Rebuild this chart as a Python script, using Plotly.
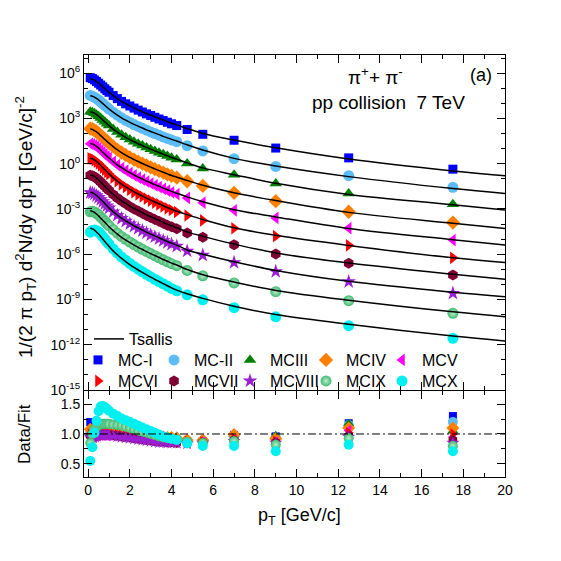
import plotly.graph_objects as go

# ---------------- data ----------------
PT = [0.1, 0.2, 0.3, 0.4, 0.5, 0.6, 0.7, 0.8, 0.9, 1.0,
      1.2, 1.4, 1.6, 1.8, 2.0, 2.2, 2.4, 2.6, 2.8, 3.0, 3.2, 3.4, 3.6, 3.8, 4.0,
      4.25, 4.75, 5.5, 7.0, 9.0, 12.5, 17.5]
FIT_PT = PT + [20.0]

SERIES = ["MC-I", "MC-II", "MCIII", "MCIV", "MCV",
          "MCVI", "MCVII", "MCVIII", "MCIX", "MCX"]

# Tsallis fit curves, log10 of 1/(2 pi pT) d2N/dy dpT at FIT_PT
FIT_LOG10_MC_I = [5.62, 5.59, 5.53, 5.44, 5.33, 5.21, 5.09, 4.96, 4.84, 4.73,
                  4.51, 4.31, 4.13, 3.97, 3.83, 3.69, 3.56, 3.44, 3.32, 3.21, 3.10, 2.99, 2.89, 2.78, 2.68,
                  2.57, 2.32, 2.00, 1.56, 1.05, 0.31, -0.48, -0.80]
FIT_LOG10_MC_II = [4.50, 4.47, 4.41, 4.32, 4.22, 4.10, 3.98, 3.86, 3.74, 3.62,
                   3.41, 3.21, 3.04, 2.88, 2.74, 2.60, 2.48, 2.36, 2.24, 2.13, 2.02, 1.92, 1.81, 1.71, 1.61,
                   1.50, 1.25, 0.90, 0.35, -0.16, -0.86, -1.65, -1.98]
FIT_LOG10_MC_III = [3.44, 3.41, 3.35, 3.25, 3.14, 3.02, 2.89, 2.77, 2.64, 2.52,
                    2.29, 2.09, 1.91, 1.74, 1.59, 1.45, 1.32, 1.20, 1.08, 0.96, 0.85, 0.74, 0.63, 0.52, 0.41,
                    0.30, 0.05, -0.28, -0.73, -1.30, -2.04, -2.72, -3.08]
FIT_LOG10_MC_IV = [2.29, 2.26, 2.19, 2.10, 1.99, 1.86, 1.73, 1.60, 1.48, 1.36,
                   1.13, 0.92, 0.73, 0.57, 0.41, 0.27, 0.14, 0.01, -0.11, -0.23, -0.35, -0.46, -0.57, -0.68, -0.79,
                   -0.90, -1.12, -1.43, -1.93, -2.45, -3.23, -3.95, -4.30]
FIT_LOG10_MC_V = [1.34, 1.31, 1.24, 1.14, 1.03, 0.89, 0.76, 0.63, 0.50, 0.37,
                  0.14, -0.08, -0.27, -0.44, -0.60, -0.75, -0.89, -1.02, -1.15, -1.27, -1.39, -1.50, -1.62, -1.73, -1.84,
                  -1.96, -2.20, -2.52, -3.05, -3.53, -4.30, -5.04, -5.39]
FIT_LOG10_MC_VI = [0.35, 0.32, 0.25, 0.14, 0.02, -0.12, -0.26, -0.40, -0.54, -0.68,
                   -0.93, -1.16, -1.36, -1.54, -1.71, -1.87, -2.01, -2.15, -2.29, -2.42, -2.54, -2.66, -2.79, -2.91, -3.02,
                   -3.15, -3.38, -3.70, -4.25, -4.75, -5.42, -6.24, -6.55]
FIT_LOG10_MC_VII = [-0.75, -0.78, -0.85, -0.96, -1.08, -1.22, -1.36, -1.50, -1.64, -1.78,
                    -2.03, -2.26, -2.46, -2.64, -2.81, -2.97, -3.11, -3.25, -3.39, -3.52, -3.64, -3.76, -3.89, -4.01, -4.12,
                    -4.25, -4.52, -4.82, -5.33, -5.92, -6.59, -7.33, -7.66]
FIT_LOG10_MC_VIII = [-1.90, -1.93, -2.00, -2.11, -2.23, -2.37, -2.51, -2.65, -2.79, -2.93,
                     -3.18, -3.41, -3.61, -3.79, -3.96, -4.12, -4.26, -4.40, -4.54, -4.67, -4.79, -4.91, -5.04, -5.16, -5.27,
                     -5.40, -5.72, -6.00, -6.50, -7.08, -7.80, -8.52, -8.82]
FIT_LOG10_MC_IX = [-3.12, -3.16, -3.23, -3.34, -3.46, -3.61, -3.75, -3.89, -4.04, -4.18,
                   -4.43, -4.67, -4.88, -5.06, -5.24, -5.40, -5.55, -5.69, -5.83, -5.96, -6.09, -6.22, -6.35, -6.47, -6.59,
                   -6.72, -7.02, -7.36, -7.85, -8.40, -9.05, -9.82, -10.14]
FIT_LOG10_MC_X = [-4.28, -4.32, -4.40, -4.53, -4.67, -4.83, -5.00, -5.16, -5.33, -5.48,
                  -5.78, -6.04, -6.28, -6.49, -6.69, -6.88, -7.05, -7.21, -7.37, -7.52, -7.67, -7.81, -7.95, -8.09, -8.23,
                  -8.38, -8.62, -8.93, -9.45, -10.00, -10.65, -11.43, -11.75]

# Data / Fit ratios at PT
RATIO_MC_I = [1.20, 1.12, 1.05, 1.02, 1.00, 1.00, 1.00, 1.00, 1.00, 1.00,
              1.00, 1.00, 0.99, 0.99, 0.98, 0.98, 0.97, 0.96, 0.95, 0.95, 0.94, 0.93, 0.92, 0.92, 0.91,
              0.90, 0.88, 0.88, 0.98, 0.96, 1.18, 1.30]
RATIO_MC_II = [1.05, 1.00, 0.98, 0.98, 0.99, 1.00, 1.00, 1.00, 1.00, 1.00,
               1.00, 1.00, 0.99, 0.99, 0.98, 0.97, 0.97, 0.96, 0.95, 0.94, 0.94, 0.93, 0.92, 0.91, 0.91,
               0.90, 0.87, 0.87, 0.95, 0.94, 1.15, 1.20]
RATIO_MC_III = [1.00, 0.98, 0.98, 0.99, 1.00, 1.01, 1.02, 1.02, 1.02, 1.02,
                1.02, 1.02, 1.02, 1.01, 1.01, 1.00, 1.00, 0.99, 0.99, 0.98, 0.98, 0.97, 0.97, 0.96, 0.96,
                0.96, 0.92, 0.90, 1.00, 0.97, 1.17, 1.05]
RATIO_MC_IV = [1.08, 1.05, 1.04, 1.04, 1.04, 1.04, 1.04, 1.04, 1.03, 1.03,
               1.03, 1.02, 1.02, 1.01, 1.00, 1.00, 0.99, 0.98, 0.98, 0.97, 0.96, 0.95, 0.95, 0.94, 0.94,
               0.93, 0.90, 0.90, 0.99, 0.92, 1.10, 1.10]
RATIO_MC_V = [0.95, 0.93, 0.94, 0.96, 0.97, 0.98, 0.98, 0.98, 0.98, 0.98,
              0.97, 0.97, 0.96, 0.96, 0.95, 0.94, 0.93, 0.92, 0.91, 0.90, 0.89, 0.89, 0.88, 0.87, 0.87,
              0.86, 0.85, 0.86, 0.90, 0.86, 1.06, 0.95]
RATIO_MC_VI = [1.00, 0.97, 0.97, 0.98, 0.99, 1.00, 1.00, 1.00, 1.00, 1.00,
               0.99, 0.99, 0.98, 0.98, 0.97, 0.96, 0.95, 0.94, 0.93, 0.92, 0.91, 0.91, 0.90, 0.89, 0.89,
               0.88, 0.88, 0.87, 0.93, 0.88, 1.02, 1.00]
RATIO_MC_VII = [0.97, 0.95, 0.96, 0.97, 0.98, 0.99, 0.99, 0.99, 0.99, 0.99,
                0.98, 0.97, 0.96, 0.95, 0.94, 0.93, 0.92, 0.91, 0.90, 0.89, 0.88, 0.87, 0.87, 0.86, 0.86,
                0.85, 0.85, 0.86, 0.90, 0.86, 0.97, 0.90]
RATIO_MC_VIII = [0.95, 0.95, 0.96, 0.97, 0.98, 0.98, 0.98, 0.98, 0.98, 0.98,
                 0.97, 0.96, 0.95, 0.94, 0.93, 0.92, 0.91, 0.90, 0.89, 0.88, 0.87, 0.86, 0.86, 0.85, 0.85,
                 0.85, 0.84, 0.85, 0.88, 0.85, 0.95, 0.85]
RATIO_MC_IX = [0.85, 1.00, 1.08, 1.12, 1.15, 1.16, 1.17, 1.17, 1.17, 1.17,
               1.16, 1.15, 1.14, 1.12, 1.10, 1.08, 1.06, 1.04, 1.02, 1.00, 0.98, 0.96, 0.94, 0.93, 0.92,
               0.91, 0.87, 0.85, 0.88, 0.82, 0.93, 0.80]
RATIO_MC_X = [0.55, 0.78, 1.02, 1.22, 1.38, 1.46, 1.47, 1.45, 1.42, 1.39,
              1.34, 1.30, 1.26, 1.23, 1.20, 1.17, 1.14, 1.11, 1.08, 1.05, 1.02, 0.99, 0.96, 0.94, 0.92,
              0.90, 0.84, 0.80, 0.80, 0.71, 0.82, 0.71]

FITS = [FIT_LOG10_MC_I, FIT_LOG10_MC_II, FIT_LOG10_MC_III, FIT_LOG10_MC_IV, FIT_LOG10_MC_V,
        FIT_LOG10_MC_VI, FIT_LOG10_MC_VII, FIT_LOG10_MC_VIII, FIT_LOG10_MC_IX, FIT_LOG10_MC_X]
RATIOS = [RATIO_MC_I, RATIO_MC_II, RATIO_MC_III, RATIO_MC_IV, RATIO_MC_V,
          RATIO_MC_VI, RATIO_MC_VII, RATIO_MC_VIII, RATIO_MC_IX, RATIO_MC_X]

# ---------------- styles ----------------
COLORS = ["#0000ff", "#5cbcf5", "#007f00", "#ff7f00", "#ff00ff",
          "#ff0000", "#800033", "#9a1fd0", "#40b870", "#00f0f0"]
SYMBOLS = ["square", "circle", "triangle-up", "diamond", "triangle-left",
           "triangle-right", "hexagon", "star", "circle", "circle"]
SIZES = [9, 11, 11, 11, 11, 11, 11, 11, 11, 11]

FONT = "Liberation Sans, Arial, Helvetica, sans-serif"

fig = go.Figure()

# data points (top panel)
for i, name in enumerate(SERIES):
    fit = FITS[i]
    data = [10 ** fit[k] * RATIOS[i][k] for k in range(len(PT))]
    marker = dict(color=COLORS[i], symbol=SYMBOLS[i], size=SIZES[i], line=dict(width=0))
    if i == 8:
        marker["gradient"] = dict(type="radial", color="#b8f0cc")
    fig.add_trace(go.Scatter(
        x=PT, y=data, mode="markers", name=name, marker=marker,
        xaxis="x2", yaxis="y", legend="legend2" if i < 5 else "legend3",
        showlegend=True))

# Tsallis fits
for i, name in enumerate(SERIES):
    fig.add_trace(go.Scatter(
        x=FIT_PT, y=[10 ** v for v in FITS[i]], mode="lines", name="Tsallis",
        line=dict(color="black", width=1.5, shape="spline", smoothing=1.0),
        xaxis="x2", yaxis="y", legend="legend", showlegend=(i == 0)))

# ratio panel
for i, name in enumerate(SERIES):
    marker = dict(color=COLORS[i], symbol=SYMBOLS[i], size=SIZES[i] - 1, line=dict(width=0))
    if i == 8:
        marker["gradient"] = dict(type="radial", color="#b8f0cc")
    fig.add_trace(go.Scatter(
        x=PT, y=RATIOS[i], mode="markers", marker=marker,
        xaxis="x", yaxis="y2", showlegend=False))

axis_common = dict(showline=True, linecolor="black", linewidth=1, mirror="ticks",
                   ticks="inside", tickcolor="black", showgrid=False, zeroline=False,
                   tickfont=dict(family=FONT, size=14, color="black"))

top_vals = [10.0 ** k for k in range(-15, 7, 3)]
top_text = ["10<sup>%d</sup>" % k for k in range(-15, 7, 3)]
minor_vals = [10.0 ** k for k in range(-15, 8)]

# the page body adds an 8 px offset; the figure is sized so it fits the window
OFF = 8.0
W = 553.0
H = 553.0


def cx(px):
    return (px - OFF) / W


def cy(py):
    return (H - (py - OFF)) / H


def px_(px):   # screen px -> paper x (plot area 84..505)
    return (px - 84.0) / 421.0


def py_(py):   # screen px -> paper y (plot area 55..477)
    return (477.0 - py) / 422.0


legend_common = dict(xref="container", yref="container", xanchor="left", yanchor="middle",
                     bgcolor="rgba(0,0,0,0)", font=dict(family=FONT, size=16, color="black"))

fig.update_layout(
    width=int(W), height=int(H),
    paper_bgcolor="white", plot_bgcolor="white",
    margin=dict(l=76, r=56, t=47, b=84, autoexpand=False),
    font=dict(family=FONT, size=16, color="black"),
    xaxis=dict(domain=[0, 1], anchor="y2", range=[-0.2, 20], tickmode="array",
               tickvals=list(range(0, 21, 2)), ticklen=8,
               minor=dict(ticks="inside", dtick=1, ticklen=4, tickcolor="black"),
               **axis_common),
    xaxis2=dict(domain=[0, 1], anchor="y", matches="x", range=[-0.2, 20], tickmode="array",
                tickvals=list(range(0, 21, 2)), ticklen=8, showticklabels=False,
                minor=dict(ticks="inside", dtick=1, ticklen=4, tickcolor="black"),
                **axis_common),
    yaxis=dict(domain=[0.2062, 1], anchor="x2", type="log", range=[-15, 7.2],
               tickmode="array", tickvals=top_vals, ticktext=top_text, ticklen=8,
               minor=dict(ticks="inside", tickmode="array", tickvals=minor_vals, ticklen=4, tickcolor="black"),
               **axis_common),
    yaxis2=dict(domain=[0, 0.2038], anchor="x", range=[0.28, 1.72],
                tickmode="array", tickvals=[0.5, 1.0, 1.5], ticktext=["0.5", "1.0", "1.5"], ticklen=8,
                minor=dict(ticks="inside", tickmode="array", tickvals=[0.25, 0.75, 1.25, 1.75], ticklen=4,
                           tickcolor="black"),
                **axis_common),
    legend=dict(x=cx(89), y=cy(339), **legend_common),
    legend2=dict(x=cx(78), y=cy(360), orientation="h", entrywidth=31, **legend_common),
    legend3=dict(x=cx(78), y=cy(381), orientation="h", entrywidth=31, **legend_common),
    shapes=[dict(type="line", xref="x domain", yref="y2", x0=0, x1=1, y0=1.0, y1=1.0,
                 line=dict(color="black", width=1, dash="8px,3px,2px,3px"))],
    annotations=[
        # axis titles
        dict(text="1/(2 \u03c0 p<sub>T</sub>) d<sup>2</sup>N/dy dpT [GeV/c]<sup>-2</sup>",
             xref="paper", yref="paper", x=px_(25), y=py_(227), textangle=-90,
             xanchor="center", yanchor="middle", showarrow=False, font=dict(family=FONT, size=19)),
        dict(text="Data/Fit", xref="paper", yref="paper", x=px_(24), y=py_(434), textangle=-90,
             xanchor="center", yanchor="middle", showarrow=False, font=dict(family=FONT, size=17)),
        dict(text="p<sub>T</sub> [GeV/c]", xref="paper", yref="paper", x=px_(299), y=py_(516),
             xanchor="center", yanchor="middle", showarrow=False, font=dict(family=FONT, size=18)),
        # labels inside the plot
        dict(text="\u03c0<sup>+</sup>+ \u03c0<sup>-</sup>", xref="paper", yref="paper",
             xanchor="center", yanchor="middle",
             x=px_(375), y=py_(76), showarrow=False, font=dict(family=FONT, size=19)),
        dict(text="pp collision  7 TeV", xref="paper", yref="paper",
             xanchor="center", yanchor="middle",
             x=px_(388), y=py_(102), showarrow=False, font=dict(family=FONT, size=19)),
        dict(text="(a)", xref="paper", yref="paper",
             xanchor="center", yanchor="middle",
             x=px_(481), y=py_(75), showarrow=False, font=dict(family=FONT, size=18)),
    ],
)

fig.write_html("out.html")
